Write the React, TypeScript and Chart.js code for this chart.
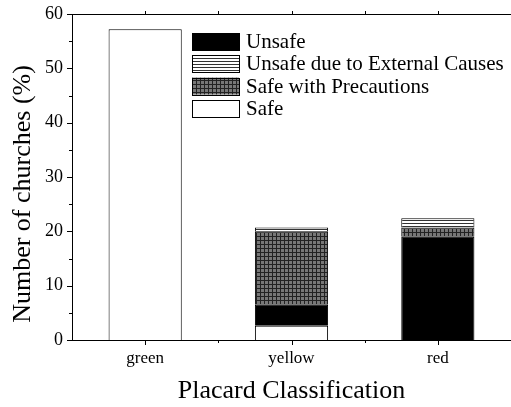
import React, { useEffect, useRef } from "react";
import { Chart, registerables } from "chart.js";

Chart.register(...registerables);

const categories = ["green", "yellow", "red"];
const safe = [57.2, 2.6, 0];
const unsafe = [0, 3.9, 19.0];
const safePrecautions = [0, 13.5, 1.7];
const unsafeExternal = [0, 0.7, 1.7];
const yTicks = [0, 10, 20, 30, 40, 50, 60];
const yTitle = "Number of churches (%)";

const SERIF = "'Liberation Serif', 'Times New Roman', serif";

function makeChecker(): CanvasPattern | string {
  const c = document.createElement("canvas");
  c.width = 4;
  c.height = 4;
  const g = c.getContext("2d");
  if (!g) return "#666";
  g.fillStyle = "#777";
  g.fillRect(0, 0, 4, 4);
  g.fillStyle = "#222";
  g.fillRect(0, 0, 4, 1);
  g.fillRect(0, 0, 1, 4);
  const p = g.createPattern(c, "repeat");
  return p || "#666";
}

function makeLines(): CanvasPattern | string {
  const c = document.createElement("canvas");
  c.width = 4;
  c.height = 3;
  const g = c.getContext("2d");
  if (!g) return "#ccc";
  g.fillStyle = "#fff";
  g.fillRect(0, 0, 4, 3);
  g.fillStyle = "#333";
  g.fillRect(0, 1, 4, 1);
  const p = g.createPattern(c, "repeat");
  return p || "#ccc";
}

export default function App() {
  const ref = useRef<HTMLCanvasElement | null>(null);
  useEffect(() => {
    if (!ref.current) return;
    const checker = makeChecker();
    const lines = makeLines();
    const legendItems = [
      { label: "Unsafe", fill: "#000" as any },
      { label: "Unsafe due to External Causes", fill: lines as any },
      { label: "Safe with Precautions", fill: checker as any },
      { label: "Safe", fill: "#fff" as any },
    ];

    const framePlugin = {
      id: "frame",
      afterDraw(chart: any) {
        const ctx = chart.ctx;
        const { left, right, top, bottom } = chart.chartArea;
        const ys = chart.scales.y;
        const xs = chart.scales.x;
        ctx.save();
        ctx.strokeStyle = "#000";
        ctx.lineWidth = 1;
        ctx.beginPath();
        ctx.moveTo(left, Math.round(top) + 0.5);
        ctx.lineTo(right, Math.round(top) + 0.5);
        ctx.stroke();
        for (let v = 0; v <= 60; v += 5) {
          const y = Math.round(ys.getPixelForValue(v)) + 0.5;
          const len = v % 10 === 0 ? 5 : 3;
          ctx.beginPath();
          ctx.moveTo(left - len, y);
          ctx.lineTo(left, y);
          ctx.stroke();
        }
        for (let i = 0; i < categories.length; i++) {
          const x = Math.round(xs.getPixelForValue(i)) + 0.5;
          ctx.beginPath();
          ctx.moveTo(x, bottom);
          ctx.lineTo(x, bottom + 5);
          ctx.stroke();
          ctx.beginPath();
          ctx.moveTo(x, top);
          ctx.lineTo(x, top - 3);
          ctx.stroke();
          if (i < categories.length - 1) {
            const xm = Math.round(xs.getPixelForValue(i + 0.5)) + 0.5;
            ctx.beginPath();
            ctx.moveTo(xm, bottom);
            ctx.lineTo(xm, bottom + 3);
            ctx.stroke();
            ctx.beginPath();
            ctx.moveTo(xm, top);
            ctx.lineTo(xm, top - 3);
            ctx.stroke();
          }
        }
        // y axis title
        ctx.save();
        ctx.translate(23, 194);
        ctx.rotate(-Math.PI / 2);
        ctx.font = `26px ${SERIF}`;
        ctx.fillStyle = "#000";
        ctx.textAlign = "center";
        ctx.textBaseline = "middle";
        ctx.fillText(yTitle, 0, 0);
        ctx.restore();
        // legend
        const bx = 192;
        const bw = 47;
        const bh = 17;
        ctx.font = `21px ${SERIF}`;
        ctx.textBaseline = "middle";
        ctx.textAlign = "left";
        legendItems.forEach((it, i) => {
          const by = 33 + i * 22.3;
          ctx.fillStyle = it.fill;
          ctx.fillRect(bx, by, bw, bh);
          ctx.strokeStyle = "#000";
          ctx.strokeRect(bx + 0.5, Math.round(by) + 0.5, bw, bh);
          ctx.fillStyle = "#000";
          ctx.fillText(it.label, 246, by + bh / 2 + 1);
        });
        ctx.restore();
      },
    };

    const ds = (label: string, data: number[], bg: any) => ({
      label,
      data: data.map((v) => (v === 0 ? null : v)),
      backgroundColor: bg,
      borderColor: "#000",
      borderWidth: 1,
      borderSkipped: "bottom" as const,
      barPercentage: 0.5,
      categoryPercentage: 1,
    });

    const chart = new Chart(ref.current, {
      type: "bar",
      data: {
        labels: categories,
        datasets: [
          ds("Safe", safe, "#fff"),
          ds("Unsafe", unsafe, "#000"),
          ds("Safe with Precautions", safePrecautions, checker),
          ds("Unsafe due to External Causes", unsafeExternal, lines),
        ],
      },
      options: {
        animation: false,
        responsive: true,
        maintainAspectRatio: false,
        layout: { padding: { top: 14, right: 0, left: 0, bottom: 0 } },
        plugins: { legend: { display: false }, tooltip: { enabled: false } },
        scales: {
          x: {
            stacked: true,
            grid: { display: false, drawTicks: false },
            border: { display: true, color: "#000", width: 1 },
            ticks: { color: "#000", padding: 8, font: { family: SERIF, size: 17 } },
            title: {
              display: true,
              text: "Placard Classification",
              color: "#000",
              font: { family: SERIF, size: 26 },
              padding: { top: 4, bottom: 0 },
            },
            afterFit: (s: any) => {
              s.height = 67;
              s.paddingLeft = 0;
              s.paddingRight = 0;
            },
          },
          y: {
            stacked: true,
            min: 0,
            max: 60,
            afterBuildTicks: (s: any) => {
              s.ticks = yTicks.map((v) => ({ value: v }));
            },
            grid: { display: false, drawTicks: false },
            border: { display: true, color: "#000", width: 1 },
            ticks: { color: "#000", padding: 9, font: { family: SERIF, size: 18 } },
            title: { display: false },
            afterFit: (s: any) => {
              s.width = 72;
              s.paddingTop = 0;
              s.paddingBottom = 0;
            },
          },
        },
      },
      plugins: [framePlugin],
    });
    return () => chart.destroy();
  }, []);

  return (
    <div style={{ position: "fixed", left: 0, top: 0, width: 511, height: 407, background: "#fff" }}>
      <canvas ref={ref} />
    </div>
  );
}
